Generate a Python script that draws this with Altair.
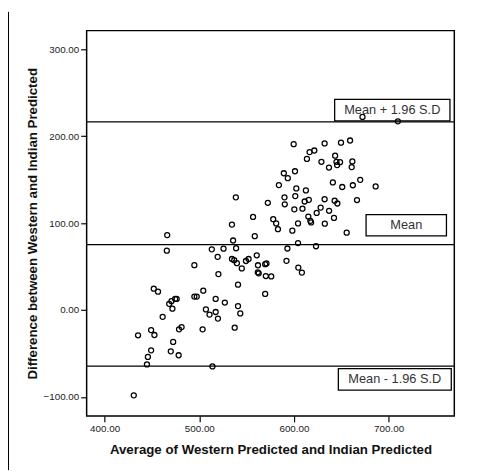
import altair as alt
import pandas as pd

# Average of Western and Indian predicted (x) and their difference (y)
avg_values = [
    672.4, 709.8, 659.3, 649.7, 632.4, 599.7, 616.5, 621.5, 613.7, 629.0,
    643.5, 644.9, 645.6, 648.7, 637.0, 661.7, 661.0, 589.3, 593.5, 601.1,
    584.1, 641.1, 651.0, 662.2, 670.0, 686.3, 602.5, 612.6, 590.0, 590.3,
    601.4, 611.3, 615.7, 632.4, 643.0, 645.9, 666.6, 600.4, 609.0, 628.2,
    624.0, 637.1, 615.2, 617.3, 618.1, 604.3, 632.6, 642.3, 598.3, 655.7,
    572.4, 538.6, 556.8, 578.1, 581.2, 583.1, 534.5, 558.6, 466.1, 465.7,
    535.7, 538.9, 525.6, 513.2, 519.4, 534.5, 536.9, 539.7, 549.3, 552.1,
    544.9, 560.7, 562.0, 569.6, 571.0, 561.8, 562.8, 494.8, 520.2, 570.3,
    576.0, 593.1, 592.1, 604.3, 623.3, 604.6, 608.4, 540.9, 569.6, 451.9,
    456.4, 494.8, 497.3, 504.2, 517.3, 527.0, 540.9, 543.3, 468.2, 470.6,
    474.5, 476.1, 471.6, 507.0, 510.8, 517.3, 519.7, 461.3, 537.4, 503.5,
    478.6, 481.3, 449.1, 452.6, 435.3, 472.4, 449.1, 445.7, 444.7, 469.9,
    478.2, 513.9, 430.8,
]
diff_values = [
    222.3, 217.2, 195.1, 192.6, 191.7, 190.9, 181.8, 183.6, 173.9, 170.6,
    177.6, 170.6, 166.8, 170.2, 164.0, 171.0, 164.5, 157.4, 151.8, 159.7,
    143.8, 146.8, 141.6, 143.6, 149.8, 142.2, 140.0, 137.7, 129.7, 121.7,
    131.1, 124.9, 126.8, 127.5, 125.8, 122.6, 126.6, 115.9, 116.6, 117.9,
    111.7, 114.2, 107.6, 102.6, 100.8, 99.7, 99.4, 106.0, 91.3, 89.0,
    123.4, 129.7, 107.1, 104.5, 99.7, 93.0, 98.3, 85.0, 86.2, 68.3,
    80.0, 71.1, 70.6, 69.8, 61.2, 58.7, 57.3, 53.9, 56.4, 58.7,
    47.9, 63.0, 51.5, 52.7, 53.6, 43.4, 42.2, 51.6, 41.3, 39.1,
    38.6, 70.8, 56.6, 77.0, 73.4, 48.8, 43.1, 29.2, 18.5, 24.5,
    21.1, 15.4, 15.4, 22.2, 12.8, 8.6, 4.5, -3.9, 7.1, 10.2,
    12.8, 12.8, 1.5, 0.7, -5.3, -2.3, -9.9, -7.9, -20.4, -22.3,
    -22.3, -19.7, -23.1, -28.8, -29.1, -36.7, -46.4, -54.0, -62.7, -47.6,
    -52.1, -65.0, -98.2,
]

# Reference lines: mean + 1.96 SD, mean, mean - 1.96 SD
line_values = [216.6, 75.3, -64.5]

# Annotation boxes (in data coordinates)
box_labels = ["Mean + 1.96 S.D", "Mean", "Mean - 1.96 S.D"]
box_x1 = [643.0, 676.2, 646.9]
box_x2 = [764.8, 761.1, 766.2]
box_y1 = [217.8, 85.3, -92.2]
box_y2 = [242.4, 109.9, -67.6]

x_ticks = [400, 500, 600, 700]
y_ticks = [-100, 0, 100, 200, 300]

pts = pd.DataFrame({"avg": avg_values, "diff": diff_values})
lines = pd.DataFrame({"y": line_values})
boxes = pd.DataFrame({
    "label": box_labels, "x1": box_x1, "x2": box_x2, "y1": box_y1, "y2": box_y2,
})
boxes["xc"] = (boxes["x1"] + boxes["x2"]) / 2
boxes["yc"] = (boxes["y1"] + boxes["y2"]) / 2

xs = alt.Scale(domain=[381, 769.4], nice=False, zero=False)
ys = alt.Scale(domain=[-122.0, 321.6], nice=False, zero=False)

x_axis = alt.Axis(values=x_ticks, format=".2f",
                  title="Average of Western Predicted and Indian Predicted")
y_axis = alt.Axis(values=y_ticks, format=".2f",
                  title="Difference between Western and Indian Predicted")

points = alt.Chart(pts).mark_point(
    shape="circle", filled=False, color="black", size=26, strokeWidth=1.3, opacity=1
).encode(
    x=alt.X("avg:Q", scale=xs, axis=x_axis),
    y=alt.Y("diff:Q", scale=ys, axis=y_axis),
)

rules = alt.Chart(lines).mark_rule(color="black", strokeWidth=1.3).encode(
    y=alt.Y("y:Q", scale=ys)
)

rects = alt.Chart(boxes).mark_rect(
    fill="white", stroke="black", strokeWidth=1.3
).encode(
    x=alt.X("x1:Q", scale=xs), x2="x2:Q",
    y=alt.Y("y1:Q", scale=ys), y2="y2:Q",
)

texts = alt.Chart(boxes).mark_text(
    font="Liberation Sans", fontSize=13, color="#333333", align="center", baseline="middle"
).encode(
    x=alt.X("xc:Q", scale=xs),
    y=alt.Y("yc:Q", scale=ys),
    text="label:N",
)

frame = alt.Chart(lines).mark_rule(color="black", strokeWidth=1, clip=False).encode(
    x=alt.value(-79.5), y=alt.value(-19), y2=alt.value(447)
)

chart = alt.layer(rules, rects, texts, points, frame).properties(
    width=374, height=392,
    padding={"left": 80, "top": 19, "right": 18, "bottom": 55},
    autosize="none",
).configure_view(
    stroke="black", strokeWidth=1.5
).configure_axis(
    domain=False, grid=False,
    tickColor="black", tickSize=6, tickWidth=1.2,
    labelFont="Liberation Sans", labelFontSize=10, labelColor="#222222", labelPadding=2,
    titleFont="Liberation Sans", titleFontSize=13.5, titleFontWeight="bold", titleColor="#111111",
).configure_axisX(titlePadding=9).configure_axisY(titlePadding=4)

chart.save("out.html", embed_options={"renderer": "svg", "actions": False})
